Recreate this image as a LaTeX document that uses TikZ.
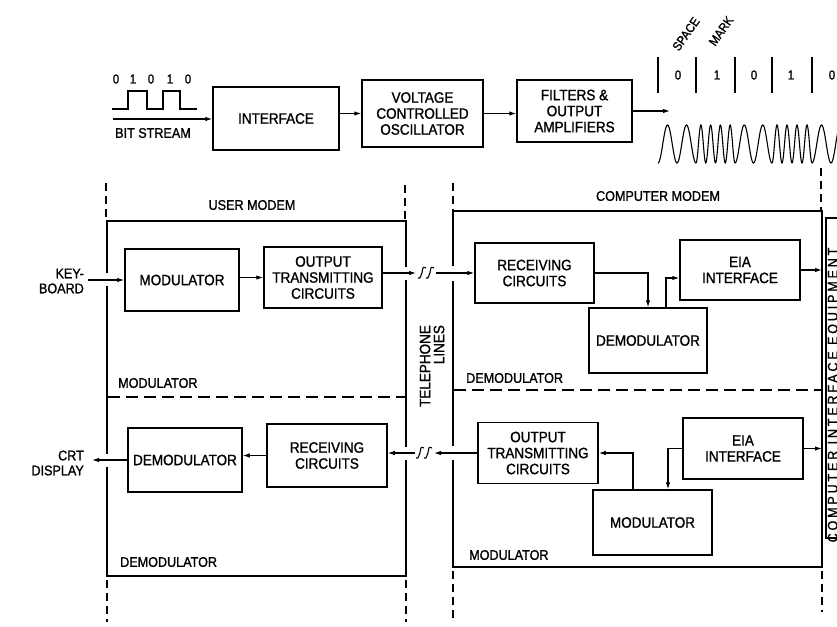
\documentclass[tikz,border=0pt]{standalone}
\usepackage{fontspec}
\setmainfont{Liberation Sans}[FakeStretch=0.9, FakeBold=1.2]
\usetikzlibrary{arrows.meta,calc}
\newcommand\boxfont{\fontsize{15}{16}\selectfont}
\newcommand\smallfont{\fontsize{14}{15}\selectfont}
\tikzset{
  box/.style={draw, line width=1.5pt, inner sep=0pt, align=center, font=\boxfont},
  lbl/.style={inner sep=0pt, align=center, font=\smallfont},
  digit/.style={inner sep=0pt, font=\fontsize{13}{13}\selectfont},
  rottxt/.style={inner sep=0pt, font=\fontsize{12.5}{12.5}\selectfont},
  conn/.style={line width=1.1pt},
  arr/.style={conn, -{Latex[length=7pt,width=4.5pt]}},
  edgeline/.style={line width=1.5pt, line join=miter, line cap=butt},
  sepdash/.style={line width=1.4pt, dash pattern=on 8pt off 5pt},
  divline/.style={line width=1.4pt, dash pattern=on 12pt off 6pt},
  barline/.style={line width=1.6pt},
  wave/.style={line width=1.1pt},
  brk/.pic={\draw[conn] (-4,5) .. controls (-1,7) and (-1,0) .. (0,0) .. controls (1,-7) and (1,-6) .. (4,-5);}
}
\begin{document}
\begin{tikzpicture}[x=1pt,y=-1pt]
\useasboundingbox (0,0) rectangle (837,626);
\fill[white] (0,0) rectangle (837,626);

% ---------------- top row ----------------
\node[box, minimum width=126pt, minimum height=63pt] (iface) at (276,118.5) {INTERFACE};
\node[box, minimum width=121pt, minimum height=67pt] (vco) at (422.5,113.5) {VOLTAGE\\CONTROLLED\\OSCILLATOR};
\node[box, minimum width=115pt, minimum height=62pt] (filt) at (574.5,111) {FILTERS \&\\OUTPUT\\AMPLIFIERS};

\coordinate (bs) at (113,119);
\draw[arr] (bs) -- (iface.west |- bs);
\draw[arr] (iface.east |- vco.west) -- (vco.west);
\draw[arr] (vco.east) -- (filt.west |- vco.east);
\coordinate (fo) at (670,111);
\draw[arr] (filt.east) -- (fo);

% bit stream square wave
\draw[conn] (112,109) -- (128,109) -- (128,91) -- (147,91) -- (147,109) -- (163,109) -- (163,91) -- (180,91) -- (180,109) -- (197,109);
\foreach \x/\d in {116/0,133/1,151/0,170/1,188/0} \node[digit] (bd\x) at (\x,79) {\d};
\node[lbl] (bst) at (153,133) {BIT STREAM};

% FSK signal
\foreach \x in {658,696,735,772,812} \draw[barline] (\x,57) -- (\x,93);
\foreach \x/\d in {678/0,717/1,754/0,791/1,832/0} \node[digit] (fd\x) at (\x,75) {\d};
\node[rottxt, rotate=55] (sp) at (686,34) {SPACE};
\node[rottxt, rotate=55] (mk) at (721,31) {MARK};
\foreach \a/\b/\n in {658/696/2, 696/735/4, 735/772/2, 772/812/4, 812/850/2}
  \draw[wave] plot[domain=\a:\b, samples=90, smooth] (\x, {144 + 19*cos(360*\n*((\x-\a)/(\b-\a)))});

% ---------------- user modem ----------------
\draw[edgeline] (107,273) -- (107,221) -- (406,221) -- (406,267);
\draw[edgeline] (406,280) -- (406,447);
\draw[edgeline] (406,460) -- (406,576) -- (107,576) -- (107,467);
\draw[edgeline] (107,454) -- (107,286);
\draw[divline] (108,397) -- (405,397);
\node[lbl] (um) at (252,205) {USER MODEM};
\node[lbl, anchor=west] (umodl) at (118,383) {MODULATOR};
\node[lbl, anchor=west] (udeml) at (120,562) {DEMODULATOR};

\node[box, minimum width=114pt, minimum height=62pt] (umod) at (182,280) {MODULATOR};
\node[box, minimum width=118pt, minimum height=61pt] (uout) at (323,277.5) {OUTPUT\\TRANSMITTING\\CIRCUITS};
\node[box, minimum width=114pt, minimum height=64pt] (udem) at (185,460) {DEMODULATOR};
\node[box, minimum width=120pt, minimum height=63pt] (urec) at (327,455.5) {RECEIVING\\CIRCUITS};

\node[lbl, align=right, anchor=east] (kb) at (84,281) {KEY-\\BOARD};
\coordinate (kbe) at (88,280);
\draw[arr] (kbe) -- (umod.west);
\draw[arr] (umod.east |- uout.west) -- (uout.west);
\node[lbl, align=right, anchor=east] (crt) at (84,463) {CRT\\DISPLAY};
\coordinate (crte) at (92,460);
\draw[arr] (udem.west) -- (crte);
\draw[arr] (urec.west) -- (udem.east |- urec.west);

% ---------------- computer modem ----------------
\draw[edgeline] (453,266) -- (453,211) -- (822,211) -- (822,567) -- (453,567) -- (453,460);
\draw[edgeline] (453,446) -- (453,281);
\draw[divline] (454,390) -- (821,390);
\node[lbl] (cm) at (658,196) {COMPUTER MODEM};
\node[lbl, anchor=west] (cdeml) at (466,378) {DEMODULATOR};
\node[lbl, anchor=west] (cmodl) at (469,555) {MODULATOR};

\node[box, minimum width=119pt, minimum height=60pt] (crec) at (534.5,273) {RECEIVING\\CIRCUITS};
\node[box, minimum width=118pt, minimum height=65pt] (cdem) at (648,340.5) {DEMODULATOR};
\node[box, minimum width=120pt, minimum height=60pt] (ceia1) at (740,270) {EIA\\INTERFACE};
\node[box, minimum width=120pt, minimum height=61pt] (cout) at (538,453) {OUTPUT\\TRANSMITTING\\CIRCUITS};
\node[box, minimum width=120pt, minimum height=61pt] (ceia2) at (743,448.5) {EIA\\INTERFACE};
\node[box, minimum width=119pt, minimum height=65pt] (cmod) at (652.5,522.5) {MODULATOR};

\coordinate (cmR) at (822,300);
\draw[arr] (crec.east) -| (cdem.north);
\draw[arr] ($(cdem.north)+(18,0)$) |- ($(ceia1.west)+(0,8)$);
\draw[arr] (ceia1.east) -- (ceia1.east -| cmR);
\draw[arr] (ceia2.west) -| ($(cmod.north)+(15.5,0)$);
\draw[arr] ($(cmod.north)+(-19.5,0)$) |- (cout.east);
\draw[arr] (ceia2.east) -- (ceia2.east -| cmR);

% ---------------- telephone lines ----------------
\coordinate (t1) at (416,273);
\coordinate (t2) at (436,273);
\draw[arr] (uout.east |- crec.west) -- (t1);
\pic at (422,273) {brk};
\pic at (430,273) {brk};
\draw[arr] (t2) -- (crec.west);

\coordinate (t3) at (434,453);
\coordinate (t4) at (415,453);
\draw[arr] (cout.west) -- (t3);
\pic at (420,453) {brk};
\pic at (428,453) {brk};
\draw[arr] (t4) -- (urec.east |- cout.west);

\node[lbl, rotate=90, align=right, font=\fontsize{15}{14}\selectfont] (tel) at (432,366) {TELEPHONE\\LINES};

% ---------------- separators ----------------
\draw[sepdash] (106,183) -- (106,221);
\draw[sepdash] (107,580) -- (107,622);
\draw[sepdash] (405,185) -- (405,221);
\draw[sepdash] (406,580) -- (406,622);
\draw[sepdash] (453,183) -- (453,211);
\draw[sepdash] (453,571) -- (453,622);
\draw[sepdash] (821,168) -- (821,211);
\draw[sepdash] (822,571) -- (822,612);

% ---------------- computer interface equipment ----------------
\draw[edgeline] (842,218) -- (826,218) -- (826,538) -- (842,538);
\node[lbl, rotate=90] (cie) at (834,395) {\addfontfeatures{LetterSpace=20}COMPUTER INTERFACE EQUIPMENT};
\end{tikzpicture}
\end{document}
